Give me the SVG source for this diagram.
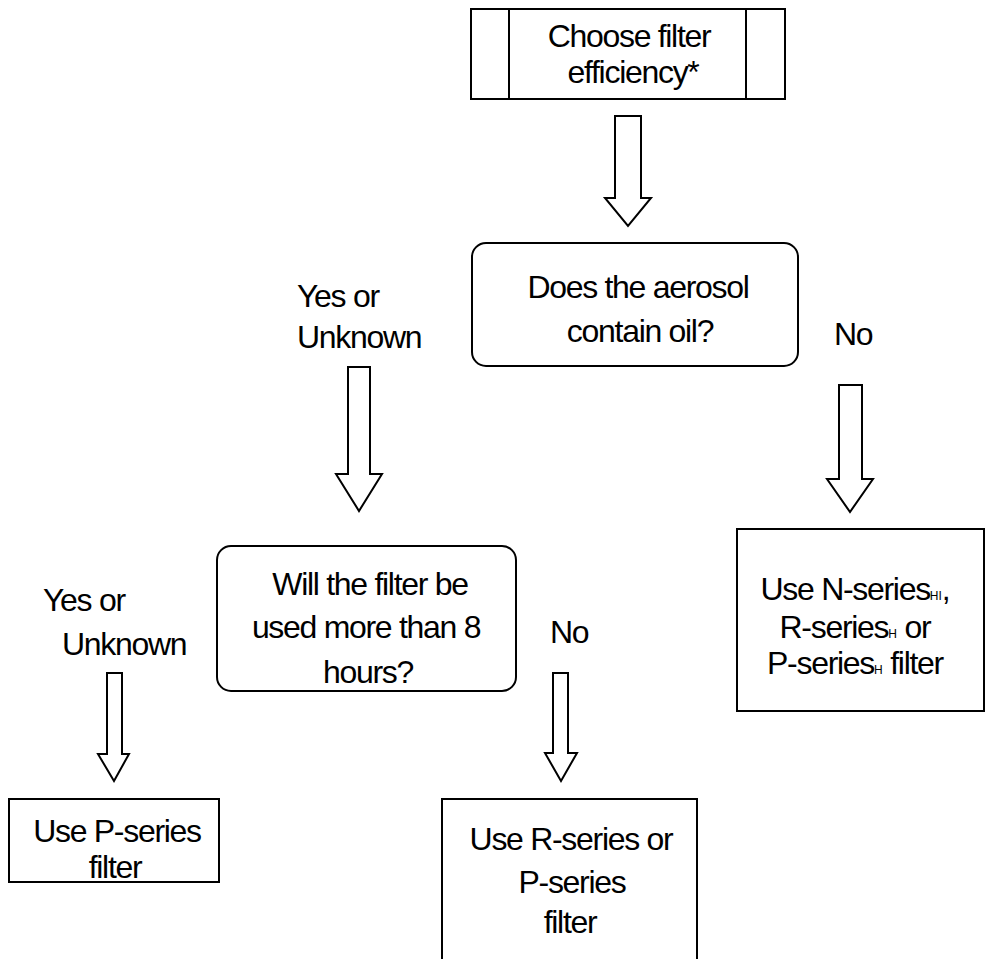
<svg xmlns="http://www.w3.org/2000/svg" width="985" height="959" viewBox="0 0 985 959">
<style>
.box{fill:#fff;stroke:#000;stroke-width:2}
.arr{fill:#fff;stroke:#000;stroke-width:2;stroke-linejoin:miter}
text{font-family:"Liberation Sans",Arial,sans-serif;font-size:32px;fill:#000;letter-spacing:-1.3px}
.c{text-anchor:middle}
.sub{font-size:12px;letter-spacing:0}
</style>
<rect width="985" height="959" fill="#fff"/>
<g id="start">
<rect class="box" x="471" y="9" width="314" height="90"/>
<line x1="509" y1="9" x2="509" y2="99" stroke="#000" stroke-width="2"/>
<line x1="746" y1="9" x2="746" y2="99" stroke="#000" stroke-width="2"/>
<text class="c" x="629" y="47">Choose filter</text>
<text class="c" x="633" y="83">efficiency*</text>
</g>
<g id="decision-oil">
<rect class="box" x="472" y="243" width="326" height="123" rx="14"/>
<text class="c" x="638" y="298">Does the aerosol</text>
<text class="c" x="640" y="342">contain oil?</text>
</g>
<g id="decision-hours">
<rect class="box" x="217" y="546" width="299" height="145" rx="14"/>
<text class="c" x="370" y="595">Will the filter be</text>
<text class="c" x="366" y="638">used more than 8</text>
<text class="c" x="368" y="683">hours?</text>
</g>
<g id="use-n">
<rect class="box" x="737" y="529" width="247" height="182"/>
<text class="c" x="855" y="600">Use N-series<tspan class="sub">HI</tspan>,</text>
<text class="c" x="855" y="638">R-series<tspan class="sub">H</tspan> or</text>
<text class="c" x="855" y="674">P-series<tspan class="sub">H</tspan> filter</text>
</g>
<g id="use-p">
<rect class="box" x="9" y="799" width="210" height="83"/>
<text class="c" x="117" y="842">Use P-series</text>
<text class="c" x="115" y="878">filter</text>
</g>
<g id="use-r">
<rect class="box" x="442" y="799" width="255" height="170"/>
<text class="c" x="571" y="850">Use R-series or</text>
<text class="c" x="572" y="893">P-series</text>
<text class="c" x="570" y="933">filter</text>
</g>
<g id="connectors">
<polygon class="arr" points="615,116 641,116 641,198 651,198 628,226 605,198 615,198"/>
<polygon class="arr" points="348,367 370,367 370,474 382,474 359,511 336,474 348,474"/>
<polygon class="arr" points="839,385 862,385 862,479 873,479 850,512 827,479 839,479"/>
<polygon class="arr" points="107,673 122,673 122,754 129,754 114,781 98,754 107,754"/>
<polygon class="arr" points="553,673 568,673 568,753 577,753 561,781 545,753 553,753"/>
<text x="297" y="307">Yes or</text>
<text x="297" y="348">Unknown</text>
<text x="834" y="345">No</text>
<text x="43" y="611">Yes or</text>
<text x="62" y="655">Unknown</text>
<text x="550" y="643">No</text>
</g>
</svg>
